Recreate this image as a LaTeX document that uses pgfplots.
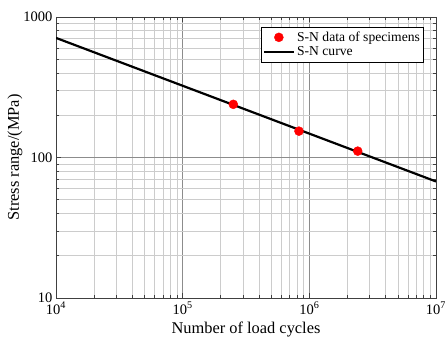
\documentclass[border=0pt]{standalone}
\usepackage{fontspec}
\setmainfont{Liberation Serif}
\usepackage{pgfplots}
\pgfplotsset{compat=1.18}
\begin{document}
\begin{tikzpicture}
\begin{axis}[
  name=ax,
  scale only axis,
  width=380pt, height=281pt,
  xmode=log, ymode=log,
  xmin=1e4, xmax=1e7, ymin=10, ymax=1000,
  xtick={1e4,1e5,1e6,1e7},
  xticklabels={10\textsuperscript{4},10\textsuperscript{5},10\textsuperscript{6},10\textsuperscript{7}},
  minor xtick={2e4,3e4,4e4,5e4,6e4,7e4,8e4,9e4,2e5,3e5,4e5,5e5,6e5,7e5,8e5,9e5,2e6,3e6,4e6,5e6,6e6,7e6,8e6,9e6},
  ytick={10,100,1000},
  yticklabels={10,100,1000},
  minor ytick={20,30,40,50,60,70,80,90,200,300,400,500,600,700,800,900},
  tick label style={font=\fontsize{14.5}{17}\selectfont},
  xticklabel style={inner ysep=1pt, yshift=-3pt},
  yticklabel style={inner xsep=1.5pt, inner ysep=0pt, xshift=-2pt},
  label style={font=\fontsize{16.4}{19}\selectfont},
  xlabel={Number of load cycles},
  ylabel={Stress range/(MPa)},
  xlabel style={at={(axis description cs:0.5,-0.1246)}, anchor=base},
  ylabel style={at={(axis description cs:-0.079,0.5)}, anchor=south},
  grid=both,
  major grid style={draw=black!45, line width=0.5pt},
  minor grid style={draw=black!20, line width=0.6pt},
  axis line style={draw=black!75, line width=0.8pt},
  tick align=inside,
  major tick length=5pt, minor tick length=3pt,
  tick style={draw=black!75, line width=0.6pt},
  legend style={at={(0.966,0.964)}, anchor=north east, draw=black,
    font=\fontsize{13.6}{16}\selectfont, inner xsep=1pt, inner ysep=2.5pt, row sep=0pt},
  legend cell align=left,
]
\addplot[only marks, mark=*, mark size=4.5pt, color=red, mark options={draw=red, fill=red},
  legend image code/.code={\fill[red] (0.53cm,0cm) circle[radius=4.5pt];}]
  coordinates {(2.51e5,239) (8.28e5,154) (2.41e6,111)};
\addlegendentry{S-N data of specimens}
\addplot[black, line width=2.2pt,
  legend image code/.code={\draw[black, line width=2.4pt] (0cm,0cm) -- (1.06cm,0cm);}]
  coordinates {(1e4,710) (1e7,67.5)};
\addlegendentry{S-N curve}
\end{axis}
\pgfresetboundingbox
\path ([shift={(-56pt,-44pt)}]ax.south west) rectangle ([shift={(9pt,17pt)}]ax.north east);
\end{tikzpicture}
\end{document}
